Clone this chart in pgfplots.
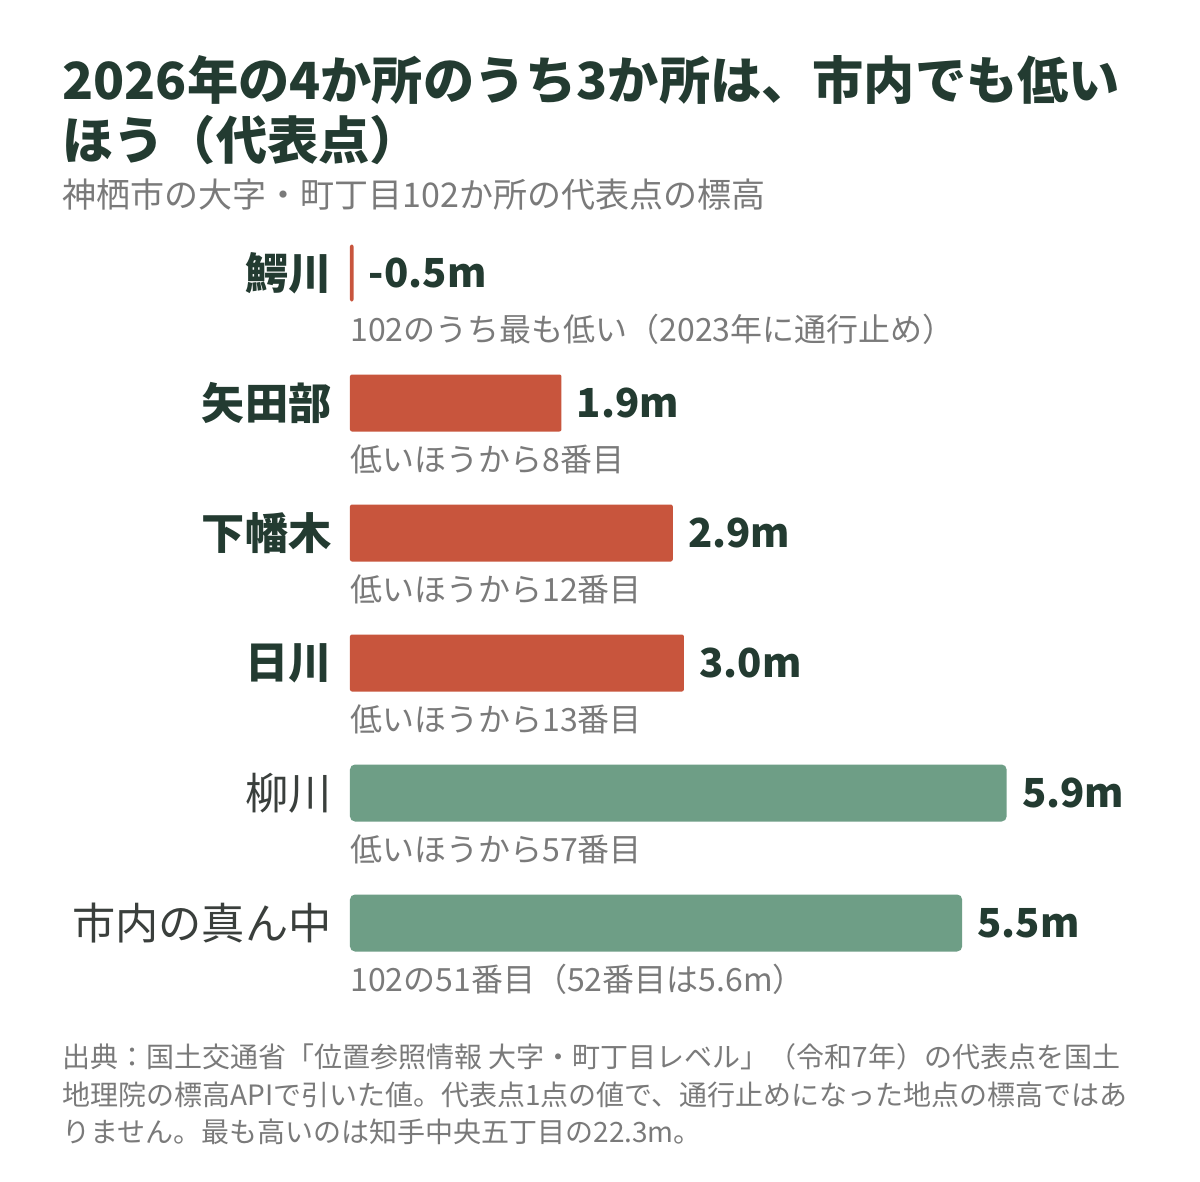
\documentclass[border=0pt]{standalone}
\usepackage{pgfplots}
\pgfplotsset{compat=1.18}
\usepackage{pgfplotstable}
\usepackage{fontspec}
\setmainfont{Noto Sans CJK JP}

\definecolor{ink}{HTML}{233B31}
\definecolor{barred}{HTML}{C8553D}
\definecolor{bargreen}{HTML}{6E9E86}
\definecolor{subgray}{HTML}{7A7A7A}
\definecolor{catgray}{HTML}{3A3F3C}

% elevation of each place (m); y is the row from the top
\pgfplotstableread{
y v label
0 -0.5 {-0.5m}
1 1.9 1.9m
2 2.9 2.9m
3 3.0 3.0m
}\redtable
\pgfplotstableread{
y v label
4 5.9 5.9m
5 5.5 5.5m
}\greentable

\begin{document}
\begin{tikzpicture}
\fill[white] (0,0) rectangle (600pt,591pt);

% title, subtitle
\node[anchor=base west, inner sep=0pt, text=ink, font=\bfseries\fontsize{25.6}{30}\selectfont]
  at (31pt,541pt) {2026年の4か所のうち3か所は、市内でも低い};
\node[anchor=base west, inner sep=0pt, text=ink, font=\bfseries\fontsize{25.6}{30}\selectfont]
  at (31pt,511pt) {ほう（代表点）};
\node[anchor=base west, inner sep=0pt, text=subgray, font=\fontsize{17}{20}\selectfont]
  at (31pt,487pt) {神栖市の大字・町丁目102か所の代表点の標高};

\begin{axis}[
  at={(175pt,97pt)}, anchor=south west,
  scale only axis, width=400pt, height=390pt,
  xmin=0, xmax=7.188, ymin=-0.5, ymax=5.5,
  y dir=reverse,
  axis line style={draw=none}, xtick=\empty, ytick=\empty,
  clip=false,
  every node near coord/.append style={anchor=west, inner sep=0pt, xshift=7.5pt,
    text=ink, font=\bfseries\fontsize{20}{24}\selectfont},
]
\addplot[xbar, bar shift=0pt, bar width=28.5pt, fill=barred, draw=none, rounded corners=1pt,
  nodes near coords, point meta=explicit symbolic]
  table[x expr={max(\thisrow{v},0.032)}, y=y, meta=label] {\redtable};
\addplot[xbar, bar shift=0pt, bar width=28.5pt, fill=bargreen, draw=none, rounded corners=2.5pt,
  nodes near coords, point meta=explicit symbolic]
  table[x=v, y=y, meta=label] {\greentable};

% place names
\begin{scope}[every node/.style={anchor=east, inner sep=0pt, xshift=-9pt}]
\node[text=ink, font=\bfseries\fontsize{21.6}{26}\selectfont] at (axis cs:0,0) {鰐川};
\node[text=ink, font=\bfseries\fontsize{21.6}{26}\selectfont] at (axis cs:0,1) {矢田部};
\node[text=ink, font=\bfseries\fontsize{21.6}{26}\selectfont] at (axis cs:0,2) {下幡木};
\node[text=ink, font=\bfseries\fontsize{21.6}{26}\selectfont] at (axis cs:0,3) {日川};
\node[text=catgray, font=\fontsize{21.6}{26}\selectfont] at (axis cs:0,4) {柳川};
\node[text=catgray, font=\fontsize{21.6}{26}\selectfont] at (axis cs:0,5) {市内の真ん中};
\end{scope}

% ranks under the bars
\begin{scope}[every node/.style={anchor=west, inner sep=0pt, yshift=-28pt,
    text=subgray, font=\fontsize{16}{19}\selectfont}]
\node at (axis cs:0,0) {102のうち最も低い（2023年に通行止め）};
\node at (axis cs:0,1) {低いほうから8番目};
\node at (axis cs:0,2) {低いほうから12番目};
\node at (axis cs:0,3) {低いほうから13番目};
\node at (axis cs:0,4) {低いほうから57番目};
\node at (axis cs:0,5) {102の51番目（52番目は5.6m）};
\end{scope}
\end{axis}

% source note
\begin{scope}[every node/.style={anchor=base west, inner sep=0pt, text=subgray,
    font=\fontsize{14}{17}\selectfont}]
\node at (31pt,57pt) {出典：国土交通省「位置参照情報 大字・町丁目レベル」（令和7年）の代表点を国土};
\node at (31pt,38pt) {地理院の標高APIで引いた値。代表点1点の値で、通行止めになった地点の標高ではあ};
\node at (31pt,19.5pt) {りません。最も高いのは知手中央五丁目の22.3m。};
\end{scope}

\pgfresetboundingbox
\path (0,0) rectangle (600pt,591pt);
\end{tikzpicture}
\end{document}
